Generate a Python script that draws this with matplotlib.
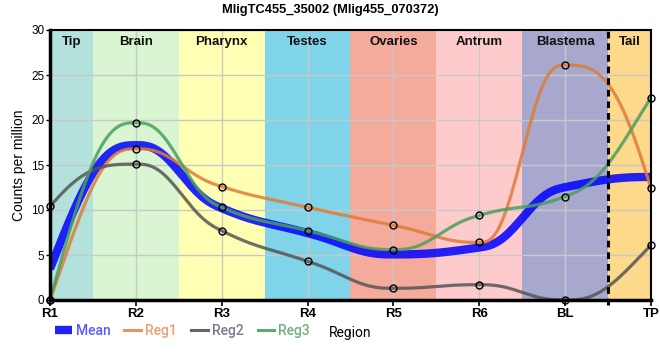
#!/usr/bin/env python3

import numpy as np
import matplotlib.pyplot as plt
from matplotlib.lines import Line2D

plt.rcParams["font.family"] = ["Liberation Sans", "DejaVu Sans"]

# data
categories = ["R1", "R2", "R3", "R4", "R5", "R6", "BL", "TP"]
reg1 = [0.0, 16.8, 12.6, 10.3, 8.3, 6.4, 26.1, 12.4]
reg2 = [10.4, 15.1, 7.7, 4.3, 1.3, 1.7, 0.0, 6.1]
reg3 = [0.0, 19.7, 10.3, 7.7, 5.6, 9.4, 11.5, 22.5]
mean = [(a + b + c) / 3 for a, b, c in zip(reg1, reg2, reg3)]

band_names = ["Tip", "Brain", "Pharynx", "Testes", "Ovaries", "Antrum", "Blastema", "Tail"]
band_edges = [0, 0.5, 1.5, 2.5, 3.5, 4.5, 5.5, 6.5, 7]
band_colors = ["#b3e2dd", "#d9f5d1", "#ffffb3", "#80d4ea",
               "#f5ab9c", "#fdcbcc", "#a8a8cf", "#fdd98b"]
tail_boundary = 6.5


def smooth(y, n=60):
    """Monotone slopes (Fritsch-Carlson) joined by quintic Hermite pieces."""
    y = np.asarray(y, dtype=float)
    x = np.arange(len(y), dtype=float)
    d = np.diff(y)
    m = np.zeros_like(y)
    for i in range(1, len(y) - 1):
        if d[i - 1] * d[i] > 0:
            m[i] = 2.0 / (1.0 / d[i - 1] + 1.0 / d[i])
    # end slopes
    for i, (a, b) in ((0, (d[0], d[1])), (len(y) - 1, (d[-1], d[-2]))):
        s = (3 * a - b) / 2.0
        if np.sign(s) != np.sign(a):
            s = 0.0
        elif np.sign(a) != np.sign(b) and abs(s) > abs(3 * a):
            s = 3 * a
        m[i] = s
    xs, ys = [], []
    for i in range(len(y) - 1):
        t = np.linspace(0, 1, n, endpoint=(i == len(y) - 2))
        h0 = 1 - 10 * t**3 + 15 * t**4 - 6 * t**5
        h1 = t - 6 * t**3 + 8 * t**4 - 3 * t**5
        h2 = -4 * t**3 + 7 * t**4 - 3 * t**5
        h3 = 10 * t**3 - 15 * t**4 + 6 * t**5
        xs.append(x[i] + t)
        ys.append(h0 * y[i] + h1 * m[i] + h2 * m[i + 1] + h3 * y[i + 1])
    return np.concatenate(xs), np.concatenate(ys)


fig = plt.figure(figsize=(6.6, 3.6), dpi=100)
ax = fig.add_axes([50 / 660, 60 / 360, 601 / 660, 270 / 360])

for name, lo, hi, col in zip(band_names, band_edges[:-1], band_edges[1:], band_colors):
    ax.axvspan(lo, hi, color=col, lw=0, zorder=0)
    ax.text((lo + hi) / 2, 28.7, name, ha="center", va="center",
            fontsize=9.5, fontweight="bold", color="#111111", zorder=6)

ax.grid(True, color="#c8c8c8", lw=1, zorder=1)
ax.set_axisbelow(False)

xs = np.arange(len(categories))
x, y = smooth(mean)
ax.plot(x, y, color="#0000ff", lw=6, alpha=0.85, zorder=3, solid_capstyle="butt")
series = [(reg1, "#e07b39"), (reg2, "#555555"), (reg3, "#4c9e5e")]
for vals, col in series:
    x, y = smooth(vals)
    ax.plot(x, np.clip(y, 0, None), color=col, lw=2.3, alpha=0.85, zorder=4)
for vals, col in series:
    ax.plot(xs, vals, ls="none", marker="o", ms=5, mfc="none", mec="black",
            mew=1.0, zorder=5, clip_on=False)

ax.axvline(tail_boundary, ymin=-0.02, ymax=1, color="black", lw=2.2,
           ls=(0, (2.2, 1.6)), zorder=6, clip_on=False)

ax.set_xlim(0, len(categories) - 1)
ax.set_ylim(0, 30)
ax.set_xticks(xs)
ax.set_xticklabels(categories, fontsize=9.5, fontweight="bold")
ax.set_yticks(range(0, 31, 5))
ax.tick_params(axis="y", labelsize=8.5, length=3, width=1, pad=1)
ax.tick_params(axis="x", length=4, width=1.2, pad=2)
ax.set_ylabel("Counts per million", fontsize=10, labelpad=4)
ax.set_xlabel("Region", fontsize=10, family="Roboto", labelpad=4)

for side, w in (("left", 2.5), ("bottom", 2.5), ("top", 1.5), ("right", 1.5)):
    ax.spines[side].set_linewidth(w)
    ax.spines[side].set_color("black")
    ax.spines[side].set_zorder(7)

fig.text(0.5, 0.972, "MligTC455_35002 (Mlig455_070372)", ha="center", va="center",
         fontsize=9.3, fontweight="bold")

handles = [Line2D([], [], color="#2222ff", lw=6, solid_capstyle="butt"),
           Line2D([], [], color="#e8945a", lw=2.2),
           Line2D([], [], color="#666666", lw=2.2),
           Line2D([], [], color="#5fa86e", lw=2.2)]
labels = ["Mean", "Reg1", "Reg2", "Reg3"]
fig.legend(handles, labels, loc="center left", bbox_to_anchor=(55 / 660, 1 - 331 / 360),
           ncol=4, frameon=False, handlelength=1.2, handletextpad=0.3,
           columnspacing=1.0, borderaxespad=0, borderpad=0,
           prop={"family": "Roboto", "size": 10, "weight": "medium"},
           labelcolor=["#5a5aff", "#e8a070", "#7a7a8a", "#6fb07f"])

fig.savefig("out.png", dpi=100)
